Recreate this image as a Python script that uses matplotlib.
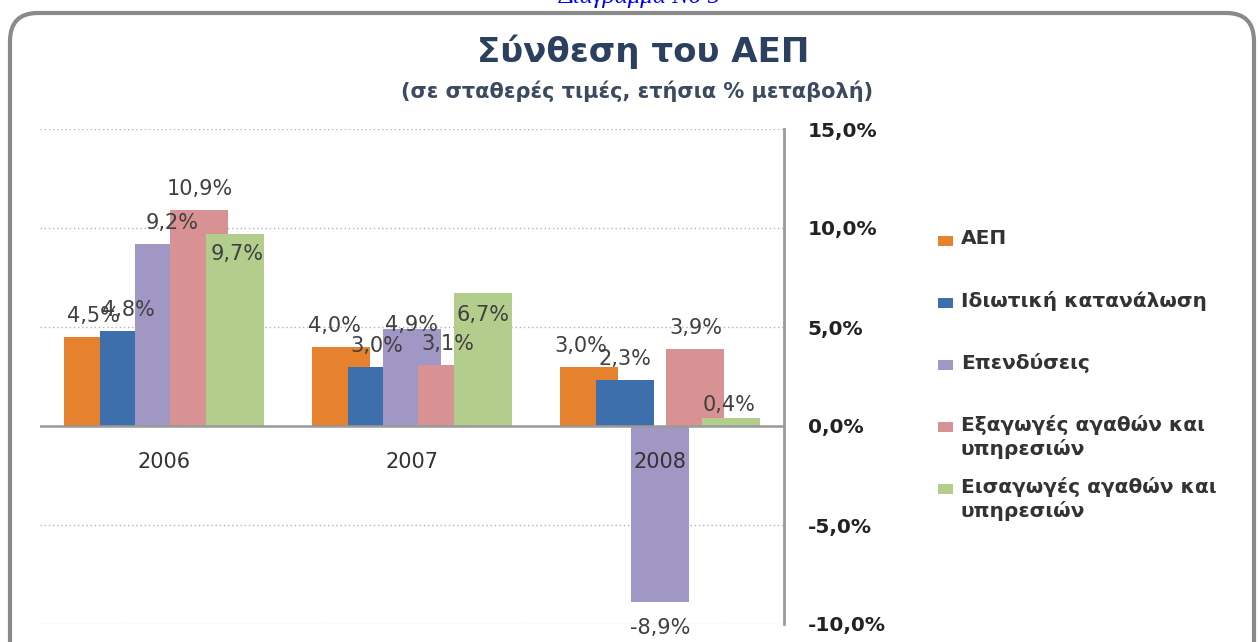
import numpy as np
import matplotlib
matplotlib.use("Agg")
import matplotlib.pyplot as plt
from matplotlib.patches import FancyBboxPatch, Rectangle
from matplotlib.ticker import FuncFormatter

plt.rcParams['font.family'] = ['DejaVu Sans']

#%% data
years = ["2006", "2007", "2008"]
series_names = ["ΑΕΠ", "Ιδιωτική κατανάλωση", "Επενδύσεις",
                "Εξαγωγές αγαθών και\nυπηρεσιών", "Εισαγωγές αγαθών και\nυπηρεσιών"]
gdp = [4.5, 4.0, 3.0]
consumption = [4.8, 3.0, 2.3]
investment = [9.2, 4.9, -8.9]
exports = [10.9, 3.1, 3.9]
imports = [9.7, 6.7, 0.4]
colors = ["#E6812E", "#3D6FAD", "#A197C4", "#D99294", "#B2CD8C"]

title = "Σύνθεση του ΑΕΠ"
subtitle = "(σε σταθερές τιμές, ετήσια % μεταβολή)"

# hand nudges for the data labels (pixels), like the moved labels in the original
nudges = {(2, 0): (8, 0), (4, 0): (2, -41), (0, 1): (-7, 0), (2, 1): (0, -17),
          (4, 1): (0, -43), (0, 2): (-8, 0), (4, 2): (-2, -8)}

def pct(v, pos=None):
    return ("%.1f" % v).replace(".", ",") + "%"

#%% figure
fig = plt.figure(figsize=(12.6, 6.42), dpi=100)
fig.patch.set_facecolor("white")

# rounded frame around the chart
frame = FancyBboxPatch((10 / 1260, -40 / 642), 1244 / 1260, 669 / 642,
                       boxstyle="round,pad=0,rounding_size=0.022",
                       transform=fig.transFigure, facecolor="white",
                       edgecolor="#8a8a8a", linewidth=3, mutation_aspect=2.0,
                       zorder=-5)
fig.patches.append(frame)

fig.text(640 / 1260, 1 - 3 / 642, "Διάγραμμα Νο 5", ha="center", va="baseline",
         fontsize=18, color="#0000ff", family="Liberation Serif", style="italic")
fig.text(643 / 1260, 1 - 52 / 642, title, ha="center", va="center",
         fontsize=24.5, fontweight="bold", color="#2b3f5f")
fig.text(637 / 1260, 1 - 91 / 642, subtitle, ha="center", va="center",
         fontsize=15, fontweight="bold", color="#3c4a60")

ax = fig.add_axes([40 / 1260, 18 / 642, 744 / 1260, 495 / 642])
ax.patch.set_alpha(0)
ax.set_xlim(-0.5, 2.5)
ax.set_ylim(-10, 15)
ax.set_axisbelow(True)

x = np.arange(len(years))
width = 0.234
step = 0.143
data = [gdp, consumption, investment, exports, imports]
for i, vals in enumerate(data):
    pos = x + (i - 2) * step
    ax.bar(pos, vals, width, color=colors[i], zorder=2 + i * 0.01)
    for j, v in enumerate(vals):
        dx, dy = nudges.get((i, j), (0, 0))
        base = 21 if v >= 0 else -26
        ax.annotate(pct(v), (pos[j], v), xytext=(dx, base + dy),
                    textcoords="offset pixels", ha="center", va="center",
                    fontsize=15, color="#404040", zorder=5)

# category labels sit under the zero line
for j, yr in enumerate(years):
    ax.annotate(yr, (x[j], 0), xytext=(0, -36), textcoords="offset pixels",
                ha="center", va="center", fontsize=15, color="#333333", zorder=5)

ax.axhline(0, color="#9a9a9a", lw=1.8, zorder=3)
ax.set_yticks([-10, -5, 0, 5, 10, 15])
ax.yaxis.set_major_formatter(FuncFormatter(pct))
ax.yaxis.tick_right()
ax.tick_params(axis="y", length=0, pad=17, labelsize=14.5, colors="#222222")
for lab in ax.get_yticklabels():
    lab.set_fontweight("bold")
ax.set_xticks([])
ax.grid(axis="y", linestyle=(0, (1, 2)), color="#aab4c4", lw=1)

for s in ["top", "left", "bottom"]:
    ax.spines[s].set_visible(False)
ax.spines["right"].set_color("#9a9a9a")
ax.spines["right"].set_linewidth(2)

#%% legend, drawn by hand
for i, name in enumerate(series_names):
    yc = 1 - (241 + i * 62) / 642
    fig.patches.append(Rectangle((938 / 1260, yc - 5 / 642), 15 / 1260, 10 / 642,
                                 transform=fig.transFigure, facecolor=colors[i],
                                 edgecolor="none"))
    fig.text(961 / 1260, yc + 12 / 642, name, ha="left", va="top",
             fontsize=14.5, fontweight="bold", color="#333333", linespacing=1.25)

fig.savefig("out.png", dpi=100, facecolor="white")
